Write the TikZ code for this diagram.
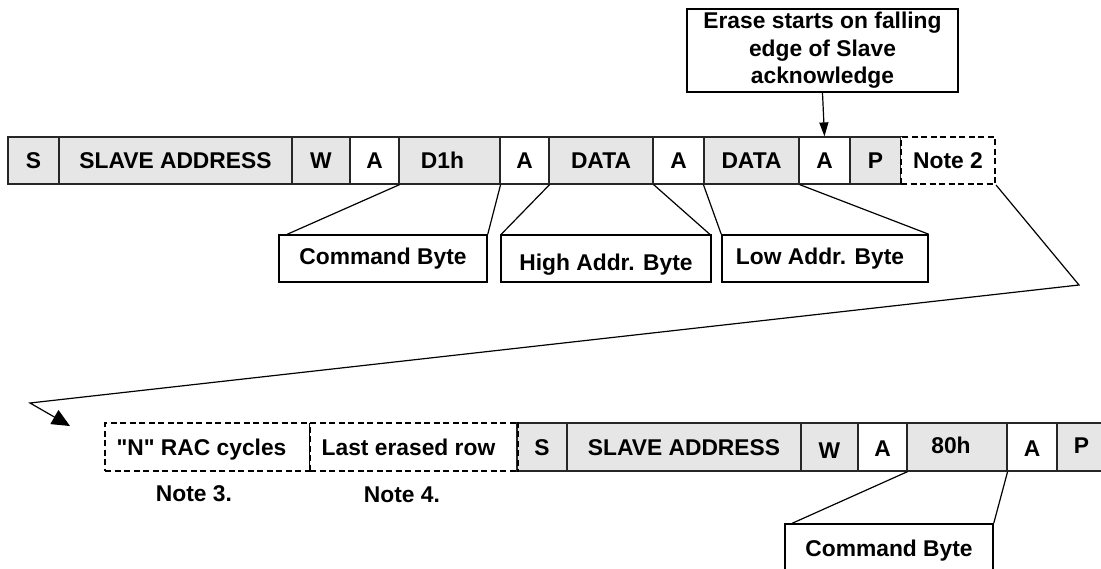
\documentclass[tikz,border=0pt]{standalone}
\usepackage{fontspec}
\setmainfont{Liberation Sans}
\usetikzlibrary{arrows.meta}
\definecolor{cellgray}{RGB}{230,230,230}
\newcommand\straightdq{\XeTeXglyph\XeTeXglyphindex "quotedbl"\relax}
\begin{document}
\begin{tikzpicture}[x=1pt,y=-1pt,
  every node/.style={font=\fontsize{22.8}{27.5}\selectfont\bfseries, inner sep=0pt},
  cellbox/.style={draw=black!85, line width=1.2pt, minimum height=47pt, text height=16.5pt, text depth=0pt},
  grayc/.style={cellbox, fill=cellgray},
  whitec/.style={cellbox, fill=white},
  dashc/.style={draw=black, line width=2.2pt, dash pattern=on 6pt off 3.5pt, fill=white, minimum height=48pt, text height=16.5pt, text depth=0pt},
  labelbox/.style={draw=black, line width=1.5pt, fill=white, minimum height=47pt, text height=16.5pt, text depth=4pt},
  erasebox/.style={draw=black, line width=2pt, fill=white, minimum width=271pt, minimum height=83pt, align=center},
  conn/.style={draw=black, line width=1.2pt},
  plain/.style={text height=16.5pt, text depth=0pt}
]
\useasboundingbox (0,0) rectangle (1101,568);
\clip (0,0) rectangle (1101,568);
\fill[white] (0,0) rectangle (1101,568);

% top row
\node[grayc, minimum width=51pt]  (s1)  at (33.5,160.5) {S};
\node[grayc, minimum width=233pt] (sa1) at (175.5,160.5) {SLAVE ADDRESS};
\node[grayc, minimum width=58pt]  (w1)  at (321,160.5) {W};
\node[whitec, minimum width=49pt] (a1)  at (374.5,160.5) {A};
\node[grayc, minimum width=101pt] (d1)  at (449.5,160.5) {\hspace*{-14pt}D1h};
\node[whitec, minimum width=49pt] (a2)  at (524.5,160.5) {A};
\node[grayc, minimum width=104pt] (dt1) at (601,160.5) {DATA};
\node[whitec, minimum width=51pt] (a3)  at (678.5,160.5) {A};
\node[grayc, minimum width=95pt]  (dt2) at (751.5,160.5) {DATA};
\node[whitec, minimum width=51pt] (a4)  at (824.5,160.5) {A};
\node[grayc, minimum width=51pt, text height=15pt]  (p1)  at (875.5,160.5) {P};
\node[dashc, minimum width=94pt, minimum height=47pt] (n2) at (948,160.5) {Note 2};

% label boxes top
\node[labelbox, minimum width=208pt] (cmd1) at (383,258.5) {Command Byte};
\node[labelbox, minimum width=210pt, text height=23pt, text depth=0pt] (high) at (606,258.5) {High Addr. Byte};
\node[labelbox, minimum width=206pt] (low)  at (825,258.5) {\hspace*{-10pt}Low Addr. Byte};
\node[erasebox] (erase) at (822.5,50.5)
  {Erase starts on falling\\edge of Slave\\acknowledge};

% connectors top
\draw[conn] (a1.south east) -- ([xshift=9pt]cmd1.north west);
\draw[conn] (d1.south east) -- (cmd1.north east);
\draw[conn] (a2.south east) -- ([xshift=1pt]high.north west);
\draw[conn] (dt1.south east) -- ([xshift=-2pt]high.north east);
\draw[conn] (dt2.south west) -- (low.north west);
\draw[conn] (dt2.south east) -- (low.north east);
\draw[conn, -{Triangle[length=14pt,width=9pt]}] (erase.south) -- (a4.north);

% long connector
\coordinate (k1) at (1079,285);
\coordinate (k2) at (30,403);
\coordinate (k3) at (70,426);
\draw[conn, -{Triangle[length=18pt,width=16pt]}] (n2.south east) -- (k1) -- (k2) -- (k3);

% bottom row
\node[dashc, minimum width=205pt] (nr) at (207.5,447) {\hspace*{-12pt}\straightdq N\straightdq{} RAC cycles};
\node[dashc, minimum width=207pt] (le) at (413.5,447) {\hspace*{-10pt}Last erased row};
\node[grayc, minimum width=50pt, minimum height=48pt]  (s2)  at (542,447) {S};
\node[grayc, minimum width=234pt, minimum height=48pt] (sa2) at (684,447) {SLAVE ADDRESS};
\node[grayc, minimum width=57pt, minimum height=48pt, text height=22pt]  (w2)  at (829.5,447) {W};
\node[whitec, minimum width=49pt, minimum height=48pt, text height=19pt] (a5)  at (882.5,447) {A};
\node[grayc, minimum width=100pt, minimum height=48pt, text height=13pt] (h80) at (957,447) {\hspace*{-12pt}80h};
\node[whitec, minimum width=50pt, minimum height=48pt, text height=19pt] (a6)  at (1032,447) {A};
\node[grayc, minimum width=58pt, minimum height=48pt, text height=13pt]  (p2)  at (1086,447) {\hspace*{-9pt}P};
\draw[black, line width=2.2pt, dash pattern=on 6pt off 3.5pt] (le.north east) -- (le.south east);

\node[plain] (note3) at (194,493) {Note 3.};
\node[plain] (note4) at (402,494) {Note 4.};

% bottom label
\node[labelbox, minimum width=208pt, text height=18pt, text depth=0pt] (cmd2) at (889,547.5) {Command Byte};
\draw[conn] (a5.south east) -- ([xshift=8pt]cmd2.north west);
\draw[conn] (h80.south east) -- (cmd2.north east);
\end{tikzpicture}
\end{document}
